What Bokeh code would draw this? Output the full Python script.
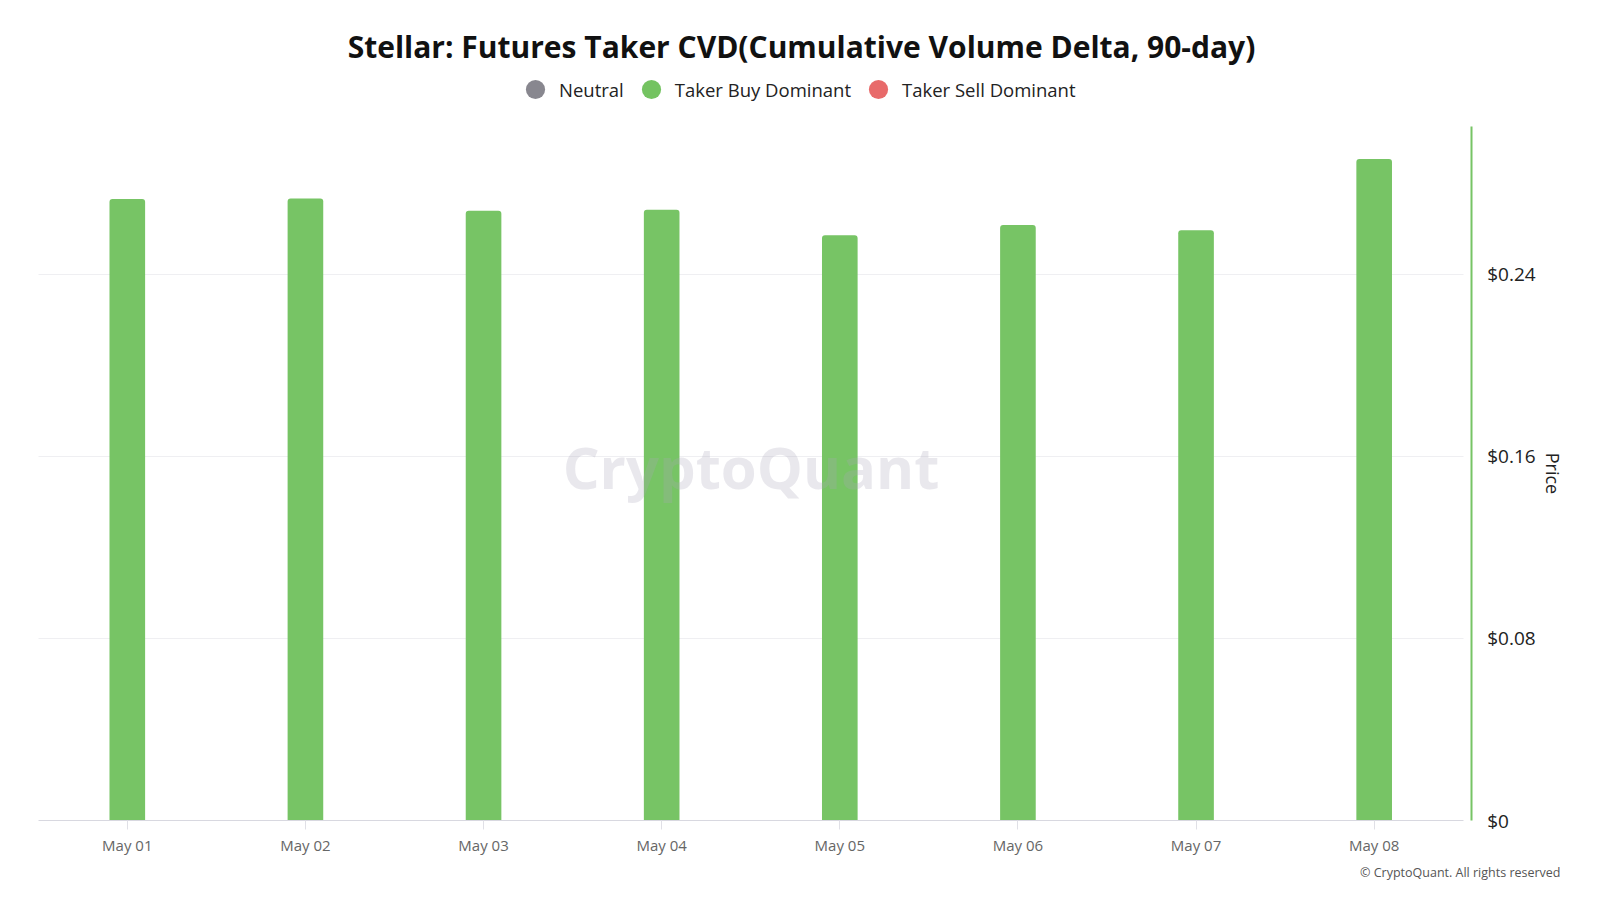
from bokeh.plotting import figure
from bokeh.models import (Range1d, FixedTicker, NumeralTickFormatter, Label,
                          Legend, LegendItem)
from bokeh.embed import file_html
from bokeh.resources import INLINE

# ---- data ----
dates = ["May 01", "May 02", "May 03", "May 04", "May 05", "May 06", "May 07", "May 08"]
price = [0.2731, 0.2734, 0.2680, 0.2684, 0.2572, 0.2617, 0.2594, 0.2907]
price_ticks = [0, 0.08, 0.16, 0.24]
legend_labels = ["Neutral", "Taker Buy Dominant", "Taker Sell Dominant"]
legend_colors = ["#88878f", "#74c361", "#e86a6a"]
bar_color = "#77c465"
title_text = "Stellar: Futures Taker CVD(Cumulative Volume Delta, 90-day)"

FONT = "Open Sans"
xs = list(range(len(dates)))

W, H = 1584, 884
PX_X = 178.125          # pixels per category
PX_Y = 694 / 0.305      # pixels per price unit
ZX, ZY = 126.8, 820     # canvas position of first category / zero price
X0 = -ZX / PX_X
Y0 = -(H - ZY) / PX_Y
x_end = X0 + W / PX_X
y_end = Y0 + H / PX_Y
price_top = 0.305
axis_x = X0 + 1470.7 / PX_X


def cx(px):
    return X0 + px / PX_X


def cy(py):
    return (ZY - py) / PX_Y


p = figure(width=W, height=H, output_backend="svg", toolbar_location=None,
           x_range=Range1d(X0, x_end), y_range=Range1d(Y0, y_end),
           y_axis_location="right",
           min_border_left=0, min_border_right=0, min_border_top=0,
           min_border_bottom=0)
p.outline_line_color = None
p.background_fill_color = "white"
p.border_fill_color = "white"

# horizontal grid
p.xgrid.visible = False
p.ygrid.ticker = FixedTicker(ticks=price_ticks[1:])
p.ygrid.grid_line_color = "#efeff2"
try:
    p.ygrid.cross_bounds = (-0.5, 7.5)
except Exception:
    p.ygrid.visible = False
    gy = price_ticks[1:]
    p.segment(x0=[-0.5] * len(gy), x1=[7.5] * len(gy), y0=gy, y1=gy,
              line_color="#efeff2", line_width=1)

# bars
p.vbar(x=xs, top=price, width=0.2, color=bar_color, line_color=None,
       border_radius=[3, 3, 0, 0])

# legend (dummy off-screen markers)
items = []
for lab, col in zip(legend_labels, legend_colors):
    r = p.scatter(x=[-100], y=[-100], marker="circle", size=19,
                  fill_color=col, line_color=None)
    items.append(LegendItem(label=lab, renderers=[r]))
legend = Legend(items=items, orientation="horizontal", location=(511, H - 89 - 24),
                label_text_font=FONT, label_text_font_size="18.5px",
                label_text_color="#222222", glyph_width=48, glyph_height=48,
                label_standoff=0, spacing=3, border_line_color=None,
                background_fill_alpha=0, padding=0, margin=0)
p.add_layout(legend, "center")

# x axis (fixed at y = 0)
xa = p.xaxis[0]
xa.fixed_location = 0
xa.bounds = (-0.5, 7.5)
xa.ticker = FixedTicker(ticks=xs)
xa.major_label_overrides = {i: d for i, d in zip(xs, dates)}
xa.major_label_text_font = FONT
xa.major_label_text_font_size = "15px"
xa.major_label_text_color = "#666666"
xa.axis_line_color = "#d8d8e0"
xa.major_tick_line_color = "#e0e0e6"
xa.major_tick_in = 0
xa.major_tick_out = 9
xa.minor_tick_line_color = None
xa.major_label_standoff = 5

# right price axis
ya = p.yaxis[0]
ya.fixed_location = axis_x
ya.bounds = (0, price_top)
ya.ticker = FixedTicker(ticks=price_ticks)
ya.formatter = NumeralTickFormatter(format="$0[.]00")
ya.axis_line_color = bar_color
ya.axis_line_width = 2
ya.major_tick_line_color = None
ya.minor_tick_line_color = None
ya.major_label_text_font = FONT
ya.major_label_text_font_size = "19px"
ya.major_label_text_color = "#222222"
ya.major_label_standoff = 10
ya.axis_label = "Price"
ya.axis_label_text_font = FONT
ya.axis_label_text_font_size = "18px"
ya.axis_label_text_font_style = "normal"
ya.axis_label_text_color = "#222222"
ya.axis_label_standoff = 2

# title
p.add_layout(Label(x=cx(801), y=cy(46), text=title_text,
                   text_align="center", text_baseline="middle", text_font=FONT,
                   text_font_style="bold", text_font_size="30px",
                   text_color="#111111"))

# watermark
p.add_layout(Label(x=cx(750.5), y=cy(466), text="CryptoQuant",
                   text_align="center", text_baseline="middle",
                   text_font=FONT, text_font_style="bold", text_font_size="58px",
                   text_color="#a9a6ba", text_alpha=0.26))

# footer
p.add_layout(Label(x=cx(1560), y=cy(872),
                   text="\u00a9 CryptoQuant. All rights reserved",
                   text_align="right", text_baseline="middle", text_font=FONT,
                   text_font_size="12.5px", text_color="#555555"))

open("out.html", "w").write(file_html(p, INLINE))
